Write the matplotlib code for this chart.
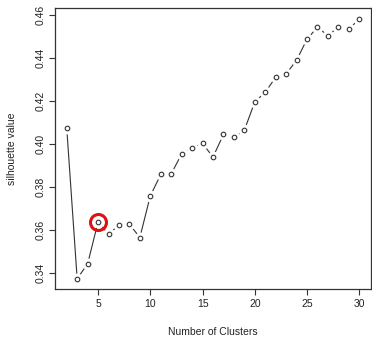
import matplotlib
matplotlib.use("Agg")
import matplotlib.pyplot as plt

clusters = list(range(2, 31))
silhouette = [0.4076, 0.3374, 0.3442, 0.3637, 0.3581, 0.3622, 0.3627, 0.3565,
              0.3758, 0.3858, 0.3861, 0.3953, 0.3982, 0.4002, 0.3939, 0.4044,
              0.4030, 0.4064, 0.4195, 0.4240, 0.4310, 0.4326, 0.4389, 0.4487,
              0.4543, 0.4503, 0.4543, 0.4532, 0.4582]
highlight_k = 5
xticks = [5, 10, 15, 20, 25, 30]
yticks = [0.34, 0.36, 0.38, 0.40, 0.42, 0.44, 0.46]

plt.rcParams['font.family'] = ['Liberation Sans', 'DejaVu Sans']
fig = plt.figure(figsize=(3.72, 3.39), dpi=100)
ax = fig.add_axes([55/372, 1-289/339, (371-55)/372, (289-8.3)/339])

ax.plot(clusters, silhouette, color='#333333', lw=0.8, zorder=1)
# white halos to emulate R type="b" gaps
ax.plot(clusters, silhouette, ls='none', marker='o', ms=8.5, mfc='white', mec='none', zorder=2)
ax.plot(clusters, silhouette, ls='none', marker='o', ms=3.3, mfc='white', mec='#333333', mew=0.8, zorder=3)

hy = silhouette[clusters.index(highlight_k)]
ax.plot([highlight_k], [hy], ls='none', marker='o', ms=11.5, mfc='none', mec='#e01010', mew=2.2, zorder=4)

ymin, ymax = min(silhouette), max(silhouette)
yr = ymax - ymin
ax.set_ylim(ymin - 0.04*yr, ymax + 0.04*yr)
ax.set_xlim(2 - 0.04*28, 30 + 0.04*28)
ax.set_xticks(xticks)
ax.set_yticks(yticks)
ax.set_yticklabels([f"{v:.2f}" for v in yticks], rotation=90, va='center')
ax.tick_params(axis='both', labelsize=7.5, length=4, width=0.8, color='#333333', labelcolor='#222222', pad=3)
for s in ax.spines.values():
    s.set_color('#333333')
    s.set_linewidth(0.9)
ax.set_xlabel('Number of Clusters', fontsize=7.5, color='#222222', labelpad=13)
ax.set_ylabel('silhouette value', fontsize=7.5, color='#222222', labelpad=13)

fig.savefig('out.png', dpi=100)
